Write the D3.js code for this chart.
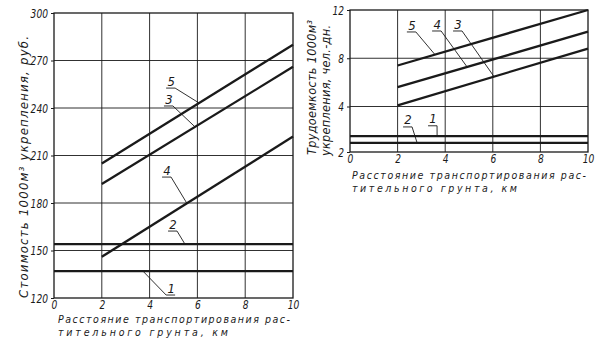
<!DOCTYPE html>
<html><head><meta charset="utf-8">
<script src="https://cdn.jsdelivr.net/npm/d3@7"></script>
<style>
html,body{margin:0;padding:0;background:#fff;}
svg text{font-family:"Liberation Sans Narrow","DejaVu Sans Condensed","DejaVu Sans",sans-serif;font-style:italic;fill:#1a1a1a;}
</style></head><body>
<svg id="chart" width="604" height="342"></svg>
<script>
// Distance of topsoil haulage, km
const kmTicks = [0, 2, 4, 6, 8, 10];
// Curve numbers 1..5 and the haulage range each one covers
const curveIds = ["1", "2", "3", "4", "5"];
const curveStartKm = [0, 0, 2, 2, 2];
const curveEndKm = [10, 10, 10, 10, 10];

// Cost of 1000 m3 of reinforcement, rub.
const costTicks = [120, 150, 180, 210, 240, 270, 300];
const costStart = [137, 154, 192, 146, 205];
const costEnd = [137, 154, 266, 222, 280];

// Labour input per 1000 m3, man-days (axis is broken between 2 and 4)
const laborTicks = [2, 4, 8, 12];
const laborStart = [2.7, 2.4, 4.1, 5.6, 7.4];
const laborEnd = [2.7, 2.4, 8.8, 10.2, 12];

// Curve-number callouts: [km, value] of the number, and km where its leader meets the curve
const costLabelAt = [[4.9, 126.3], [4.98, 166.7], [4.81, 245.7], [4.73, 200.8], [4.9, 257]];
const costLeaderKm = [3.72, 5.48, 5.9, 5.56, 6.07];
const laborLabelAt = [[3.49, 3.46], [2.44, 3.41], [4.54, 10.84], [3.66, 10.84], [2.6, 10.76]];
const laborLeaderKm = [3.66, 2.82, 6.05, 4.92, 3.57];

const ink = "#1a1a1a";
const digitW = 5.8; // narrow drafting digits
const svg = d3.select("#chart");

function narrowDigits(sel) {
  sel.attr("font-size", 12.5).attr("fill", ink)
    .attr("lengthAdjust", "spacingAndGlyphs")
    .attr("textLength", function () { return this.textContent.length * digitW; });
}

function panel(p) {
  const g = svg.append("g");
  const x = d3.scaleLinear().domain([0, 10]).range([p.left, p.right]);
  const y = p.y;
  const [y0, y1] = [y(p.yTicks[0]), y(p.yTicks[p.yTicks.length - 1])];

  // grid
  g.selectAll(".vg").data(kmTicks.slice(1, -1)).join("line")
    .attr("x1", d => x(d)).attr("x2", d => x(d)).attr("y1", y0).attr("y2", y1)
    .attr("stroke", ink).attr("stroke-width", 0.9);
  g.selectAll(".hg").data(p.yTicks.slice(1, -1)).join("line")
    .attr("x1", p.left).attr("x2", p.right).attr("y1", d => y(d)).attr("y2", d => y(d))
    .attr("stroke", ink).attr("stroke-width", 0.9);
  // frame
  g.append("rect").attr("x", p.left).attr("y", y1)
    .attr("width", p.right - p.left).attr("height", y0 - y1)
    .attr("fill", "none").attr("stroke", ink).attr("stroke-width", 1.3);

  // axes (tick labels and small outward ticks)
  const yAxis = g.append("g").attr("transform", `translate(${p.left},0)`)
    .call(d3.axisLeft(y).tickValues(p.yTicks).tickSize(3).tickPadding(3).tickSizeOuter(0));
  yAxis.select(".domain").remove();
  yAxis.selectAll("line").attr("stroke", ink).attr("stroke-width", 1);
  yAxis.selectAll("text").call(narrowDigits);

  const xAxis = g.append("g").attr("transform", `translate(0,${y0})`)
    .call(d3.axisBottom(x).tickValues(kmTicks).tickSize(0).tickPadding(p.xPad).tickSizeOuter(0));
  xAxis.select(".domain").remove();
  xAxis.selectAll("text").call(narrowDigits);

  // curves
  const val = (i, km) => p.start[i] + (km - curveStartKm[i]) / (curveEndKm[i] - curveStartKm[i]) * (p.end[i] - p.start[i]);
  const line = d3.line().x(d => x(d[0])).y(d => y(d[1]));
  g.selectAll(".curve").data(curveIds).join("path")
    .attr("d", (d, i) => line([[curveStartKm[i], p.start[i]], [curveEndKm[i], p.end[i]]]))
    .attr("fill", "none").attr("stroke", ink).attr("stroke-width", 2.3);

  // callouts
  curveIds.forEach((id, i) => {
    const cx = x(p.labelAt[i][0]), cy = y(p.labelAt[i][1]);
    const tx = x(p.leaderKm[i]), ty = y(val(i, p.leaderKm[i]));
    g.append("text").attr("x", cx).attr("y", cy).attr("dy", "0.35em")
      .attr("text-anchor", "middle").attr("font-size", 13).text(id);
    const uy = cy + 7, ua = cx - 5, ub = cx + 4;
    const end = tx < cx ? ua : ub;
    g.append("path")
      .attr("d", d3.line()([[ua, uy], [ub, uy]]) + d3.line()([[end, uy], [tx, ty]]))
      .attr("fill", "none").attr("stroke", ink).attr("stroke-width", 0.9);
  });

  // x title, two lines
  p.xTitle.forEach((t, k) => {
    g.append("text").attr("x", p.left + p.xTitleDx).attr("y", p.xTitleY[k])
      .attr("font-size", 10.5).attr("textLength", p.xTitleLen[k]).attr("lengthAdjust", "spacing")
      .text(t);
  });
  // y title lines
  p.yTitle.forEach((t, k) => {
    g.append("text")
      .attr("transform", `translate(${p.yTitleX[k]},${p.yTitleStart[k]}) rotate(-90)`)
      .attr("font-size", p.yTitleSize).attr("textLength", p.yTitleLen[k]).attr("lengthAdjust", "spacing")
      .text(t);
  });
}

panel({
  left: 54, right: 293,
  y: d3.scaleLinear().domain([120, 300]).range([298, 13]),
  yTicks: costTicks, start: costStart, end: costEnd,
  labelAt: costLabelAt, leaderKm: costLeaderKm, xPad: 2,
  xTitle: ["Расстояние транспортирования рас-", "тительного грунта, км"],
  xTitleDx: 4, xTitleY: [323, 336], xTitleLen: [232, 170],
  yTitle: ["Стоимость 1000м³ укрепления, руб."],
  yTitleX: [28], yTitleStart: [298], yTitleLen: [262], yTitleSize: 13
});

panel({
  left: 350, right: 588,
  y: d3.scaleLinear().domain([2, 4, 12]).range([152, 106.5, 10]),
  yTicks: laborTicks, start: laborStart, end: laborEnd,
  labelAt: laborLabelAt, leaderKm: laborLeaderKm, xPad: 2,
  xTitle: ["Расстояние транспортирования рас-", "тительного грунта, км"],
  xTitleDx: 2, xTitleY: [179, 192], xTitleLen: [234, 165],
  yTitle: ["Трудоемкость  1000м³", "укрепления, чел.-дн."],
  yTitleX: [316, 330], yTitleStart: [155, 156], yTitleLen: [135, 131], yTitleSize: 12.5
});
</script>
</body></html>
